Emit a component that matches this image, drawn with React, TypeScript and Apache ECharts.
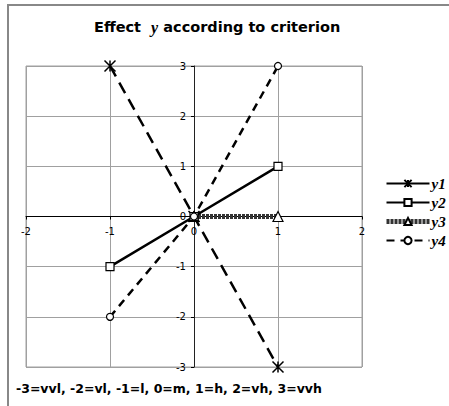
import React, { useEffect, useRef } from "react";
import * as echarts from "echarts";

const xValues = [-1, 0, 1];
const y1 = [3, 0, -3];
const y2 = [-1, 0, 1];
const y3: (number | null)[] = [null, 0, 0];
const y4 = [-2, 0, 3];
const seriesNames = ["y1", "y2", "y3", "y4"];
const titleText = "Effect";
const titleRest = " according to criterion";
const footnote = "-3=vvl, -2=vl, -1=l, 0=m, 1=h, 2=vh, 3=vvh";

const pairs = (ys: (number | null)[]) =>
  xValues.map((x, i) => (ys[i] === null ? null : [x, ys[i]])).filter((p) => p !== null);

const GRID = { left: 26, right: 87, top: 66, bottom: 39 };
const W = 449;
const H = 406;

export default function App() {
  const ref = useRef<HTMLDivElement>(null);
  useEffect(() => {
    if (!ref.current) return;
    const chart = echarts.init(ref.current, null, { renderer: "svg" });
    const sans = "DejaVu Sans";
    const serif = "Liberation Serif";
    const open = { color: "#fff", borderColor: "#000", borderWidth: 1.2 };
    const plotW = W - GRID.left - GRID.right;
    const plotH = H - GRID.top - GRID.bottom;
    const y3Line = { color: "#333", width: 5, type: [3, 1] };
    chart.setOption({
      animation: false,
      backgroundColor: "#fff",
      title: {
        text: `{a|${titleText}  }{b|y}{a|${titleRest}}`,
        left: 89,
        top: 14,
        textStyle: {
          rich: {
            a: { fontFamily: sans, fontWeight: "bold", fontSize: 14.5, color: "#000" },
            b: { fontFamily: serif, fontStyle: "italic", fontSize: 16, color: "#000" },
          },
        },
      },
      graphic: [
        {
          type: "line",
          shape: { x1: 8, y1: 5, x2: 8, y2: 406 },
          style: { stroke: "#888", lineWidth: 2 },
          silent: true,
          z: 10,
        },
        {
          type: "line",
          shape: { x1: 7, y1: 5, x2: 449, y2: 5 },
          style: { stroke: "#888", lineWidth: 2 },
          silent: true,
          z: 10,
        },
        {
          type: "text",
          x: 16,
          y: 388,
          style: {
            text: footnote,
            fontFamily: sans,
            fontWeight: "bold",
            fontSize: 12.5,
            fill: "#000",
            textVerticalAlign: "middle",
          },
        },
      ],
      grid: { ...GRID, show: true, borderColor: "#a0a0a0", borderWidth: 1 },
      legend: {
        orient: "vertical",
        left: 384,
        top: 176,
        padding: 0,
        itemWidth: 43,
        itemHeight: 9,
        itemGap: 4,
        data: [
          { name: seriesNames[0], lineStyle: { type: "solid", width: 2 } },
          { name: seriesNames[1], lineStyle: { width: 2 } },
          { name: seriesNames[2], lineStyle: y3Line },
          { name: seriesNames[3], lineStyle: { width: 2 } },
        ],
        textStyle: { fontFamily: serif, fontStyle: "italic", fontWeight: "bold", fontSize: 15, color: "#000", padding: [0, 0, 0, -3] },
      },
      xAxis: {
        type: "value",
        min: -2,
        max: 2,
        interval: 1,
        position: "bottom",
        offset: -plotH / 2,
        axisLine: { onZero: false, lineStyle: { color: "#000", width: 1 } },
        axisTick: { show: true, length: 3, lineStyle: { color: "#000" } },
        splitLine: { show: true, lineStyle: { color: "#a0a0a0", width: 1 } },
        axisLabel: { fontFamily: sans, fontSize: 10, color: "#000", margin: 10 },
      },
      yAxis: {
        type: "value",
        min: -3,
        max: 3,
        interval: 1,
        position: "left",
        offset: -plotW / 2,
        axisLine: { onZero: false, lineStyle: { color: "#222", width: 1 } },
        axisTick: { show: true, length: 3, lineStyle: { color: "#000" } },
        splitLine: { show: true, lineStyle: { color: "#a0a0a0", width: 1 } },
        axisLabel: { fontFamily: sans, fontSize: 10, color: "#000", margin: 8 },
      },
      series: [
        {
          name: "y1",
          type: "line",
          data: pairs(y1),
          symbol: "path://M0,0L10,10M10,0L0,10M5,0L5,10",
          symbolSize: 11,
          lineStyle: { color: "#000", width: 2.5, type: [12, 7] },
          itemStyle: { color: "#000", borderColor: "#000", borderWidth: 1.5 },
          z: 3,
        },
        {
          name: "y2",
          type: "line",
          data: pairs(y2),
          symbol: "rect",
          symbolSize: 8,
          lineStyle: { color: "#000", width: 2.5 },
          itemStyle: open,
          z: 3,
        },
        {
          name: "y3",
          type: "line",
          data: pairs(y3),
          symbol: "triangle",
          symbolSize: 10,
          lineStyle: y3Line,
          itemStyle: open,
          z: 2,
        },
        {
          name: "y4",
          type: "line",
          data: pairs(y4),
          symbol: "circle",
          symbolSize: 7,
          lineStyle: { color: "#000", width: 2.5, type: [8, 6] },
          itemStyle: open,
          z: 3,
        },
      ],
    });
    return () => chart.dispose();
  }, []);
  return <div ref={ref} style={{ width: W, height: H, position: "absolute", left: 0, top: 0 }} />;
}
